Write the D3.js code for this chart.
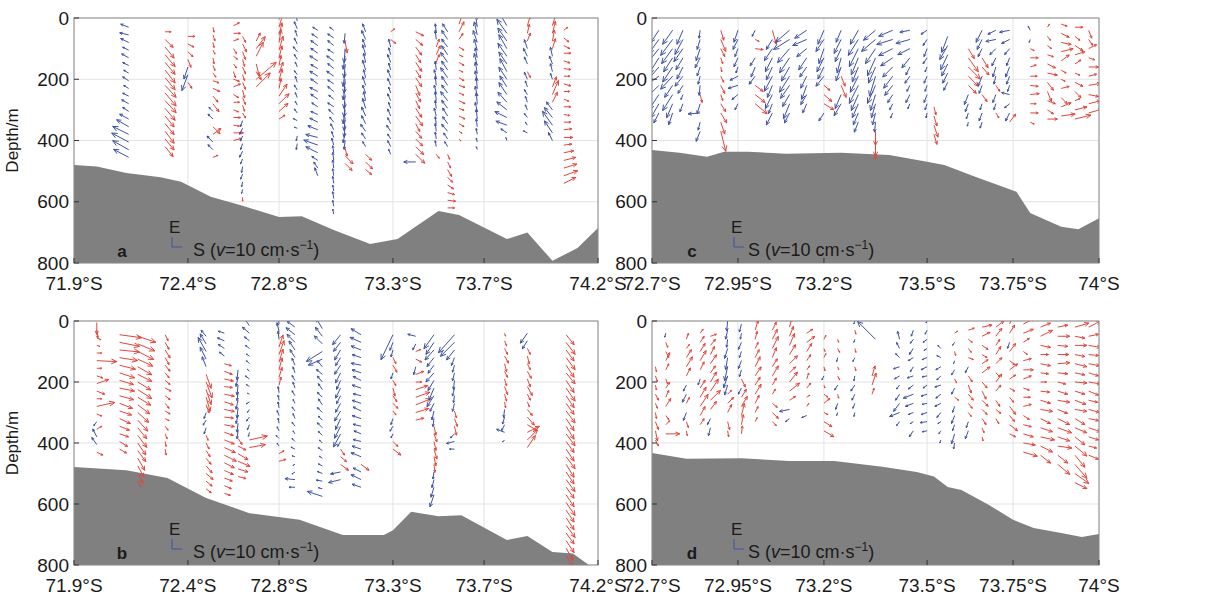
<!DOCTYPE html>
<html lang="en">
<head>
<meta charset="UTF-8">
<title>Current vectors along the sections</title>
<script src="https://d3js.org/d3.v7.min.js"></script>
<style>
  body { margin: 0; background: #fff; }
  text { font-family: "Liberation Sans", Arial, sans-serif; fill: #1a1a1a; }
</style>
</head>
<body>
<div id="chart"></div>
<script>
// axis ticks
const latTicksAB = [71.9, 72.4, 72.8, 73.3, 73.7, 74.2];
const latTicksCD = [72.7, 72.95, 73.2, 73.5, 73.75, 74];
const depthTicks = [0, 200, 400, 600, 800];

// bottom topography, [latitude °S, depth m]
const bottomA = [[71.9,480],[72.0,485],[72.13,506],[72.28,520],[72.37,535],[72.5,584],[72.64,613],[72.8,650],[72.9,647],[73.04,692],[73.2,738],[73.32,722],[73.5,630],[73.59,643],[73.8,722],[73.89,700],[74.0,793],[74.11,751],[74.2,686]];
const bottomB = [[71.9,479],[72.13,489],[72.31,515],[72.48,580],[72.67,630],[72.89,652],[73.08,702],[73.26,702],[73.3,686],[73.38,625],[73.5,640],[73.6,637],[73.8,718],[73.89,705],[74.0,757],[74.09,762],[74.16,800],[74.2,800]];
const bottomC = [[72.7,431],[72.78,440],[72.86,453],[72.91,437],[72.98,437],[73.09,443],[73.25,440],[73.39,447],[73.5,469],[73.55,480],[73.64,518],[73.76,567],[73.8,637],[73.89,682],[73.94,690],[74.0,654]];
const bottomD = [[72.7,433],[72.8,452],[72.96,450],[73.1,459],[73.23,459],[73.37,478],[73.47,495],[73.52,510],[73.56,544],[73.6,554],[73.68,603],[73.75,652],[73.81,679],[73.89,695],[73.95,708],[74.0,698]];

// stations: latitude, first depth z0, then one vector every dz metres
// vector = [southward, eastward] in cm/s (null = no data)
const stationsA = [
  {lat:72.14, z0:30, vec:[[-8,3],[-9,2],[-8,4],[-6,3],[-7,4],[-6,3],[-5,3],[-6,4],[-5,3],[-6,3],[-7,4],[-6,4],[-9,5],[-12,7],[-16,8],[-17,9],[-16,9],[-15,8]]},
  {lat:72.30, z0:45, vec:[[6,0],[8,-8],[9,-11],[10,-12],[10,-12],[10,-13],[10,-12],[11,-12],[11,-13],[11,-12],[10,-12],[9,-11],[9,-11],[9,-12],[9,-11],[8,-10]]},
  {lat:72.40, z0:60, vec:[[7,0],[6,-3],[5,-5],[3,-8],[-4,-12],[-6,-16],[4,-6]]},
  {lat:72.51, z0:30, vec:[[1,-5],[2,-6],[1,-5],[2,-4],[1,-6],[2,-5],[3,-4],[6,-2],[7,-3],[5,-6],[6,-8],[-4,4],[-5,5],[7,-7],[8,6],[-6,6],[-5,5],[5,2]]},
  {lat:72.60, z0:25, vec:[[6,3],[7,0],[5,2],[3,-5],[4,-3],[3,-4],[2,-6],[6,-2],[7,3],[5,-3],[6,0],[5,-2],[7,0],[6,-1],[10,0],[8,2]]},
  {lat:72.64, z0:60, vec:[[3,-6],[4,-8],[3,-8],[2,-7],[3,-7],[2,-6],[3,-7],[2,-8],[3,-7],[2,-6],[3,-5],[-2,-6],[-3,-6],[-2,-5],[-2,-6],[-3,-6],[-2,-5],[-1,-6],[-2,-5],[-1,-5],[-1,-4],[0,-4]]},
  {lat:72.70, z0:75, vec:[[4,8],[9,12],[7,14],[3,-12],[5,-8],[20,17],[14,14]]},
  {lat:72.80, z0:5, vec:[[3,12],[4,14],[3,12],[2,13],[4,14],[3,12],[2,10],[4,11],[3,12],[2,10],[8,12],[10,10],[9,8],[6,4]]},
  {lat:72.88, z0:10, vec:[[-2,8],[-3,7],[-2,6],[-3,6],[-4,5],[-3,5],[-2,5],[-3,4],[-2,6],[-3,5],[-2,5],[-2,4],[-3,4],[-4,2],[-3,1],[-1,-5],[-1,-6]]},
  {lat:72.97, z0:40, vec:[[-5,3],[-6,4],[-7,5],[-7,5],[-8,5],[-7,4],[-8,5],[-7,5],[-8,4],[-7,5],[-6,4],[-7,3],[-8,4],[-10,4],[-12,3],[-14,5],[-12,6],[-6,4],[-4,6],[-3,8]]},
  {lat:73.04, z0:40, vec:[[-4,3],[-6,4],[-6,5],[-6,4],[-7,5],[-6,5],[-7,5],[-6,4],[-6,5],[-5,4],[-6,4],[-5,5],[-4,5],[-3,6],[-2,6],[-2,7],[-1,7],[-1,8],[-1,8],[-1,7],[-1,7],[-1,6],[-1,7],[-1,6],[-1,5]]},
  {lat:73.09, z0:50, vec:[[-1,-10],[2,-12],[-1,-14],[-2,-13],[-1,-14],[-2,-15],[-1,-14],[-2,-13],[-1,-14],[-1,-15],[-2,-14],[-1,-13],[-1,-12],[-2,-10],[-1,-9],[2,-8],[8,-8],[7,-7]]},
  {lat:73.18, z0:45, vec:[[-3,8],[-4,9],[-3,8],[-3,10],[-2,9],[-3,10],[-2,8],[-3,9],[-3,8],[-2,9],[-3,10],[-4,9],[-4,8],[-5,7],[-4,6],[-3,5],[6,-6],[7,-7],[6,-5]]},
  {lat:73.29, z0:45, vec:[[4,3],[5,-4],[-2,8],[-2,7],[-3,8],[-2,7],[-3,8],[-3,7],[-2,6],[-3,7],[-2,6],[-3,7],[-3,6],[-4,6],[-3,5],[-3,6],[-2,5]]},
  {lat:73.40, z0:45, vec:[[8,-4],[7,-6],[6,-8],[5,-8],[6,-9],[5,-8],[6,-9],[4,-10],[5,-9],[4,-8],[6,-9],[7,-10],[4,-8],[6,-7],[7,-7],[8,-8],[9,-9],[-12,0]]},
  {lat:73.49, z0:45, vec:[[-1,8],[-1,9],[3,8],[4,9],[3,8],[-1,9],[-2,8],[-1,9],[-2,8],[-1,9],[-1,8],[-2,8],[-1,7],[-1,8],[-1,7],[-1,6],[3,-4]]},
  {lat:73.54, z0:45, vec:[[-5,8],[-6,9],[-6,8],[-6,9],[-7,10],[-6,9],[-7,10],[-6,9],[-6,8],[-7,9],[-6,8],[-5,8],[-5,7],[-6,7],[-4,6],[-3,5],[2,-5],[3,-6],[4,-7],[5,-5],[6,-4],[7,-2],[8,-1],[7,0]]},
  {lat:73.59, z0:20, vec:[[4,12],[5,10],[4,6],[5,-3],[4,-2],[5,-3],[4,-2],[5,-3],[6,-2],[5,-2],[6,-3],[5,-2],[6,-3],[5,-3],[3,-2],[2,-2]]},
  {lat:73.67, z0:5, vec:[[-1,15],[-2,14],[-3,13],[-4,12],[-3,11],[-2,10],[-3,12],[-2,11],[-2,10],[-1,11],[-2,10],[-1,11],[-2,9],[-1,10],[-1,8],[-1,6],[-1,4],[-1,3]]},
  {lat:73.80, z0:0, vec:[[-8,14],[-9,15],[-10,14],[-9,13],[-8,14],[-9,13],[-8,12],[-7,13],[-8,12],[-7,11],[-8,12],[-9,10],[-10,8],[-12,6],[-11,4],[-6,4],[-1,3]]},
  {lat:73.89, z0:0, vec:[[2,12],[3,10],[2,9],[3,8],[-3,9],[-4,8],[-3,7],[3,-6],[-3,7],[-2,6],[-3,5],[-2,6],[-2,5],[-3,4],[-2,3],[-4,2]]},
  {lat:74.00, z0:0, vec:[[3,12],[4,13],[3,12],[2,11],[3,10],[-2,9],[-3,8],[-2,8],[-2,6],[4,10],[6,14],[5,10],[-6,8],[-8,10],[-10,14],[-8,12],[-4,8]]},
  {lat:74.05, z0:40, vec:[[4,3],[5,-4],[6,-3],[7,0],[6,-2],[7,-1],[6,0],[7,-2],[6,0],[5,-2],[7,0],[6,-1],[7,0],[8,1],[9,0],[8,1],[10,2],[12,3],[13,4],[14,5],[12,6]]}
];

const stationsB = [
  {lat:72.00, z0:5, vec:[[0,-12],[1,-8],[4,-2],[3,-1],[5,0],[20,-1],[5,0],[6,-2],[12,4],[8,-3],[5,0],[18,4],[5,-2],[-3,-4],[5,3],[-4,8],[-5,7],[6,-3]]},
  {lat:72.10, z0:45, vec:[[22,-3],[20,-4],[20,-2],[18,-3],[16,-4],[15,-5],[14,-4],[15,-3],[14,-4],[13,-5],[12,-4],[11,-5],[10,-4],[9,-3],[8,-5],[7,-4]]},
  {lat:72.18, z0:50, vec:[[18,-6],[17,-7],[16,-8],[15,-7],[14,-8],[14,-7],[13,-8],[14,-9],[13,-8],[12,-9],[11,-10],[10,-11],[9,-11],[9,-12],[8,-12],[8,-11],[7,-12],[6,-11],[5,-10],[3,-6]]},
  {lat:72.30, z0:45, vec:[[3,-6],[4,-7],[5,-8],[4,-7],[5,-6],[4,-5],[5,-4],[6,-3],[5,-4],[4,-5],[5,-3],[4,-2],[3,-4],[2,-5],[1,-5],[1,-6]]},
  {lat:72.48, z0:50, vec:[[-5,6],[-6,10],[-8,14],[-6,12],[-4,10],[5,-14],[6,-16],[5,-15],[4,-14],[3,-8],[-2,-6],[-3,-5],[-2,-6],[2,-5],[3,-6],[4,-6],[5,-6],[6,-7],[7,-6],[6,-5],[5,-4]]},
  {lat:72.56, z0:40, vec:[[-6,2],[-7,3],[-6,4],[-5,4],[7,-2],[8,-3],[9,-2],[8,-1],[10,-2],[9,-3],[10,-2],[9,-1],[10,-2],[9,-3],[10,-4],[11,-5],[12,-6],[10,-5],[9,-4],[8,-3],[7,-3],[6,-2]]},
  {lat:72.62, z0:160, vec:[[-1,-10],[-2,-9],[-1,-10],[-1,-8],[-2,-9],[-1,-10],[-2,-8],[-1,-9],[-1,-8],[4,-6],[8,-4],[10,-6],[12,-5],[10,-3],[8,-2]]},
  {lat:72.67, z0:15, vec:[[-6,8],[-7,6],[-5,4],[-4,3],[-3,2],[-3,3],[-2,2],[-4,3],[-3,2],[-2,1],[-3,-2],[-2,-3],[-3,-4],[-2,-5],[-1,-4],[18,4],[16,3]]},
  {lat:72.80, z0:10, vec:[[-1,10],[-2,9],[-1,8],[4,12],[5,14],[4,13],[3,12],[3,10],[2,8],[-1,6],[-1,5],[-1,6],[-2,5],[-1,5],[-2,4],[-3,3],[-2,3],[5,3],[7,2]]},
  {lat:72.87, z0:20, vec:[[-8,6],[-9,7],[-8,8],[-6,9],[-5,8],[-3,7],[-2,6],[-3,5],[-2,6],[-3,5],[-2,4],[-3,4],[-2,5],[-3,4],[-2,3],[-3,3],[-4,2],[-3,1],[-2,-1],[-3,-2],[-10,1],[-6,0]]},
  {lat:72.99, z0:25, vec:[[-6,10],[-7,9],[-8,8],[-16,-10],[-14,-6],[-5,6],[-6,5],[-5,6],[-4,6],[-5,5],[-4,6],[-5,5],[-4,4],[-5,5],[-4,4],[-3,3],[-4,3],[-3,2],[-4,2],[-5,2],[-6,1],[-4,1],[-15,5]]},
  {lat:73.07, z0:45, vec:[[-8,-10],[-7,-9],[-6,-10],[-5,-8],[-6,-9],[-5,-10],[-4,-9],[-5,-10],[-4,-8],[-5,-9],[-6,-10],[-5,-11],[-6,-12],[-7,-13],[-3,-5],[4,-6],[6,-5],[8,-6],[-10,-2],[-12,-3]]},
  {lat:73.16, z0:45, vec:[[-10,6],[-11,5],[-10,4],[-9,3],[-10,2],[-9,3],[-8,4],[-9,3],[-8,2],[-9,3],[-8,4],[-9,3],[-8,2],[-7,3],[-8,2],[-9,3],[-10,4],[8,-6],[-8,4],[-10,5],[-9,3]]},
  {lat:73.30, z0:45, vec:[[-12,-25],[-3,-8],[-2,-7],[3,-6],[4,-7],[-2,-6],[3,-5],[2,-8],[4,-6],[5,-5],[3,-4],[-2,-6],[-3,-5],[-2,-4],[5,-5],[8,-6]]},
  {lat:73.40, z0:50, vec:[[-8,2],[-3,-6],[5,2],[6,-3],[-2,-8],[8,3],[6,0],[12,4],[14,5],[15,6],[13,4],[8,2]]},
  {lat:73.48, z0:45, vec:[[-10,-14],[-8,-12],[-9,-10],[-7,-9],[-6,-8],[-8,-9],[-6,-10],[-5,-12],[-7,-11],[-4,-8],[-2,-9],[-1,-8],[2,-9],[3,-8],[2,-9],[3,-10],[2,-9],[1,-8],[-1,-7],[-2,-8],[-3,-10],[-4,-12]]},
  {lat:73.57, z0:45, vec:[[-16,-18],[-14,-14],[-8,-10],[-3,-8],[-2,-7],[-2,-8],[-1,-9],[-2,-8],[-1,-7],[-2,-8],[2,-7],[3,-8],[2,-9],[-4,-4],[-8,-2],[-5,0]]},
  {lat:73.79, z0:40, vec:[[1,-3],[2,-5],[3,-6],[4,-7],[2,-8],[3,-6],[2,-7],[3,-8],[2,-7],[1,-6],[-1,-8],[-2,-7],[-3,-6],[-8,3],[-2,-2]]},
  {lat:73.89, z0:40, vec:[[-7,-10],[-5,-8],[3,-6],[2,-8],[3,-6],[4,-7],[3,-8],[5,-9],[3,-6],[2,-5],[5,-6],[7,-8],[10,-6],[12,6],[10,10],[8,12]]},
  {lat:74.06, z0:45, vec:[[8,-10],[9,-12],[8,-11],[9,-12],[8,-12],[9,-11],[8,-12],[9,-13],[8,-12],[8,-11],[9,-12],[8,-12],[8,-13],[9,-12],[8,-11],[8,-12],[9,-12],[8,-13],[8,-12],[9,-12],[8,-11],[8,-12],[9,-13],[8,-12],[8,-12],[9,-12],[8,-11],[8,-12],[7,-12],[7,-11]]}
];

const stationsC = [
  {lat:72.72, z0:40, vec:[[-8,-12],[-10,-14],[-12,-15],[-10,-16],[-12,-14],[-14,-10],[-12,-12],[-10,-15],[-8,-14],[-5,-10]]},
  {lat:72.76, z0:40, vec:[[-10,-14],[-12,-16],[-11,-15],[-9,-14],[-10,-15],[-12,-13],[-8,-12],[-10,-16],[-6,-14],[-4,-12]]},
  {lat:72.79, z0:40, vec:[[-6,-14],[-8,-15],[-9,-13],[-7,-12],[-6,-12],[-8,-10],[-5,-8],[-2,-5],[-3,-8]]},
  {lat:72.84, z0:40, vec:[[-1,-8],[-3,-10],[-4,-12],[-5,-10],[-3,-9],[-2,-8],[-1,-10],[2,-8],[-3,-10],[-12,-1],[-2,-8],[-4,-10]]},
  {lat:72.90, z0:40, vec:[[3,-10],[5,-12],[4,-8],[2,-6],[1,-5],[3,-6],[4,-8],[2,-6],[5,-8],[6,-10],[4,-12],[5,-20]]},
  {lat:72.95, z0:40, vec:[[-4,-12],[-5,-10],[-3,-8],[-4,-9],[-2,-6],[-8,-4],[-10,-3],[-6,-5],[-3,-6]]},
  {lat:73.00, z0:40, vec:[[-3,-6],[4,-2],[8,-1],[-5,-8],[-4,-10],[-6,-8],[8,-6],[10,-8],[12,-10]]},
  {lat:73.05, z0:40, vec:[[4,-14],[-6,-10],[-8,-12],[-7,-14],[-6,-13],[-8,-15],[-5,-12],[-7,-14],[-4,-10],[-6,-12]]},
  {lat:73.10, z0:40, vec:[[-14,-12],[-16,-10],[-12,-14],[-10,-15],[-8,-14],[-10,-16],[-9,-13],[-7,-12],[-6,-15],[-5,-10]]},
  {lat:73.15, z0:40, vec:[[-12,-8],[-14,-6],[-10,-8],[-8,-12],[-7,-10],[-6,-12],[-5,-14],[-6,-10],[-4,-9]]},
  {lat:73.20, z0:40, vec:[[-6,-14],[-8,-12],[-5,-15],[-7,-14],[-6,-12],[-8,-10],[6,-5],[8,-7],[10,-6],[-5,-8]]},
  {lat:73.25, z0:40, vec:[[-5,-12],[-7,-14],[-6,-13],[-4,-15],[-5,-14],[4,-10],[5,-12],[-6,-14],[-7,-12]]},
  {lat:73.30, z0:40, vec:[[-8,-14],[-10,-16],[-9,-18],[-7,-17],[-6,-15],[-8,-16],[-9,-18],[-7,-16],[-6,-14],[-5,-12],[-4,-10]]},
  {lat:73.35, z0:40, vec:[[-12,-10],[-14,-12],[-10,-15],[-8,-18],[-7,-16],[-6,-20],[-8,-18],[-5,-16],[-4,-14],[-3,-12],[-1,-10],[0,-14],[0,-16],[0,-10]]},
  {lat:73.40, z0:40, vec:[[-14,-6],[-16,-5],[-14,-7],[-12,-8],[-10,-10],[-9,-12],[-8,-10],[-5,-8],[-3,-6],[-2,-5]]},
  {lat:73.45, z0:40, vec:[[-10,-2],[-14,-4],[-12,-6],[-8,-10],[-4,-8],[-5,-7],[-3,-6],[-4,-8],[-2,-5]]},
  {lat:73.50, z0:40, vec:[[-6,-4],[-4,-6],[-3,-8],[-4,-6],[-2,-5],[-3,-7],[-2,-6],[-3,-8],[-2,-6],[-1,-5]]},
  {lat:73.52, z0:290, vec:[[2,-8],[3,-10],[4,-12],[3,-10]]},
  {lat:73.56, z0:60, vec:[[-6,-16],[-8,-14],[-7,-15],[-6,-12],[-5,-10],[-4,-8]]},
  {lat:73.62, z0:100, vec:[[6,-10],[10,-14],[12,-12],[10,-10],[8,-8],[-4,-10],[-3,-8],[-2,-6],[-1,-4]]},
  {lat:73.66, z0:40, vec:[[-6,-12],[-5,-10],[-4,-8],[6,-10],[7,-8],[-4,-10],[-3,-8],[5,-7],[-2,-6],[-3,-8],[-2,-6]]},
  {lat:73.70, z0:40, vec:[[-8,-4],[-10,-2],[-6,-6],[-4,-8],[-3,-10],[-2,-8],[4,-6],[-3,-8],[-2,-6],[3,-5]]},
  {lat:73.74, z0:40, vec:[[-10,-2],[-8,-4],[-5,-6],[-3,-8],[-4,-10],[-3,-8],[-2,-6],[-8,2],[-5,-4],[-4,-8],[6,8]]},
  {lat:73.80, z0:40, vec:[[-2,4],[-1,-3],[4,-2],[8,0],[6,2],[7,0],[8,-1],[9,1],[6,0],[8,0],[4,-2]]},
  {lat:73.85, z0:30, vec:[[2,3],[3,-4],[4,-3],[6,-2],[8,-4],[10,-2],[6,-8],[4,-10],[8,-3],[6,-4],[10,0]]},
  {lat:73.89, z0:20, vec:[[6,-2],[8,-4],[10,-2],[12,3],[8,6],[5,-3],[4,-2],[8,2],[6,-6],[10,4],[14,2]]},
  {lat:73.93, z0:30, vec:[[8,0],[5,-4],[8,-5],[10,3],[6,4],[5,-2],[8,-4],[6,-6],[5,2],[12,3],[16,4]]},
  {lat:73.97, z0:40, vec:[[3,-8],[4,-6],[8,4],[6,-2],[10,0],[8,2],[12,2],[10,-2],[12,3],[14,4]]}
];

const stationsD = [
  {lat:72.71, z0:150, vec:[[1,-5],[2,-6],[1,-5],[3,-6],[2,-5],[1,-6],[3,-8],[2,-10],[3,-6]]},
  {lat:72.74, z0:40, vec:[[-1,-4],[2,-5],[3,-6],[4,8],[3,6],[2,-5],[4,6],[3,7],[5,8],[3,-4],[4,4],[14,0]]},
  {lat:72.80, z0:60, vec:[[2,6],[3,4],[5,8],[6,10],[4,8],[-3,-6],[-4,-8],[3,6],[-3,-8],[2,-6],[1,-5]]},
  {lat:72.84, z0:40, vec:[[3,4],[4,6],[5,8],[6,10],[4,8],[-2,-6],[5,8],[6,10],[8,12],[5,9],[4,6]]},
  {lat:72.87, z0:50, vec:[[6,2],[5,6],[4,8],[6,9],[5,7],[6,10],[8,12],[10,10],[6,8],[-3,-6],[-2,-8]]},
  {lat:72.92, z0:0, vec:[[-1,-10],[-2,-9],[-1,-8],[-3,-10],[-2,-12],[-3,-14],[-4,-12],[-3,-10],[4,4],[6,6],[4,8],[2,-8],[1,-6]]},
  {lat:72.96, z0:10, vec:[[-2,-8],[-1,-6],[-3,-7],[-2,-6],[-3,-8],[-2,-7],[4,-8],[-3,-6],[5,8],[6,10],[3,12],[2,10],[1,8]]},
  {lat:73.00, z0:0, vec:[[2,12],[3,10],[2,8],[3,6],[4,8],[5,10],[6,9],[5,8],[6,10],[4,8],[3,6],[2,4]]},
  {lat:73.05, z0:0, vec:[[3,10],[4,8],[5,10],[6,12],[4,10],[5,8],[6,10],[4,7],[3,5],[5,-4],[6,-6],[4,-4]]},
  {lat:73.10, z0:20, vec:[[2,8],[4,10],[5,12],[6,10],[8,8],[6,6],[8,10],[10,8],[6,4],[-10,-2],[-4,-3]]},
  {lat:73.15, z0:40, vec:[[6,4],[8,6],[5,8],[4,6],[3,4],[2,6],[4,5],[3,2],[2,3],[-5,-2]]},
  {lat:73.20, z0:60, vec:[[2,4],[1,-3],[2,4],[1,-4],[-2,-4],[1,-3],[4,-3],[6,5],[4,-2],[8,-5],[10,-6]]},
  {lat:73.24, z0:60, vec:[[1,-3],[2,-4],[-1,-4],[1,-3],[2,-4],[-3,-5],[1,-4],[-2,-6],[-1,-3]]},
  {lat:73.29, z0:0, vec:[[-1,-3],[1,-4],[-1,-3],[1,-4],[-2,-4],[1,-4],[-1,-5],[-4,-6],[-3,-6],[-2,-5],[-1,-4]]},
  {lat:73.34, z0:180, vec:[[3,10],[4,12],[2,6]]},
  {lat:73.35, z0:60, vec:[[-18,18]]},
  {lat:73.42, z0:60, vec:[[-2,8],[-3,6],[-4,4],[-6,-2],[-5,-3],[-3,-4],[-4,-6],[-6,-8],[-10,-4],[-3,-4]]},
  {lat:73.46, z0:30, vec:[[-2,-6],[-3,-4],[-4,-6],[-5,-3],[-3,-5],[-6,-2],[-5,-4],[-10,-4],[-8,-3],[-5,-2],[-3,-2],[-4,-6]]},
  {lat:73.50, z0:0, vec:[[-1,-2],[-2,-4],[-4,-3],[-3,-2],[-5,-2],[-6,-3],[-5,-1],[-4,-3],[-6,-2],[-5,-1],[-6,-2],[-7,-1],[-5,-1]]},
  {lat:73.54, z0:90, vec:[[-3,3],[-4,2],[-5,-3],[-4,-4],[-6,-2],[-5,-4],[-6,-3],[-4,-5],[-3,-2],[-2,-3],[-1,-3]]},
  {lat:73.58, z0:40, vec:[[3,2],[-2,-3],[1,-4],[-1,-3],[-3,-5],[2,-4],[-3,-6],[4,-3],[-2,-6],[-3,-8],[-2,-6],[-3,-10],[-1,-6]]},
  {lat:73.62, z0:30, vec:[[6,2],[4,-3],[3,-4],[5,-2],[-3,-6],[4,-6],[3,-8],[5,-6],[4,-5],[3,-4],[-2,-6],[-3,-8]]},
  {lat:73.66, z0:20, vec:[[10,2],[8,4],[6,-4],[5,-3],[6,4],[8,6],[5,-6],[4,-8],[6,-6],[5,-5],[4,-6],[2,-5],[1,-4]]},
  {lat:73.70, z0:20, vec:[[8,6],[6,8],[4,6],[5,8],[6,6],[4,-4],[6,8],[5,6],[4,-6],[5,-4],[3,-5]]},
  {lat:73.74, z0:10, vec:[[4,10],[5,8],[-2,-6],[6,8],[5,-4],[8,6],[6,4],[5,-3],[4,-5],[6,-8],[5,-6],[8,-6],[6,-3]]},
  {lat:73.78, z0:10, vec:[[12,6],[10,4],[6,4],[4,-3],[8,2],[10,0],[8,3],[6,-2],[7,0],[8,2],[6,-4],[8,-2],[10,-3],[12,-2],[14,-4]]},
  {lat:73.83, z0:20, vec:[[10,4],[12,6],[10,-2],[8,0],[10,-2],[8,-1],[6,0],[9,-1],[10,-3],[12,-2],[10,-5],[12,-4],[14,-3],[12,-6],[10,-8]]},
  {lat:73.88, z0:20, vec:[[10,2],[12,0],[10,-1],[11,0],[12,1],[10,-1],[8,-2],[10,-3],[12,-2],[10,-4],[12,-6],[14,-5],[12,-4],[14,-2],[10,-8],[12,-10]]},
  {lat:73.93, z0:20, vec:[[14,4],[10,-2],[12,0],[10,-2],[12,-3],[10,-2],[12,-1],[10,-3],[11,-4],[12,-2],[10,-6],[12,-5],[10,-8],[12,-10],[10,-12],[12,-14],[14,-10],[12,-6]]},
  {lat:73.97, z0:20, vec:[[12,6],[10,2],[12,-2],[10,-1],[11,-2],[10,-3],[12,-2],[10,-4],[9,-2],[11,-3],[10,-2],[12,-4],[10,-3],[8,-2],[10,-4]]}
];

const panels = [
  {id:"a", left:74,  top:18,  xDomain:[71.9,74.2], ticks:latTicksAB, bottom:bottomA, stations:stationsA, dz:25, ylabel:true,  leg:[48, 98, 119]},
  {id:"b", left:74,  top:321, xDomain:[71.9,74.2], ticks:latTicksAB, bottom:bottomB, stations:stationsB, dz:25, ylabel:true,  leg:[48, 98, 119]},
  {id:"c", left:652, top:18,  xDomain:[72.7,74.0], ticks:latTicksCD, bottom:bottomC, stations:stationsC, dz:30, ylabel:false, leg:[40, 82, 96]},
  {id:"d", left:652, top:321, xDomain:[72.7,74.0], ticks:latTicksCD, bottom:bottomD, stations:stationsD, dz:30, ylabel:false, leg:[40, 82, 96]}
];

const W = 1211, H = 600;
const red = "#e0473d", blue = "#3f52a4";

// 10 cm/s drawn as 10 px
const speed = d3.scaleLinear().domain([0, 10]).range([0, 10]);

const svg = d3.select("#chart").append("svg")
  .attr("width", W).attr("height", H);

function arrow(x0, y0, dx, dy) {
  const len = Math.hypot(dx, dy);
  if (len < 0.5) return "";
  const ang = Math.atan2(dy, dx);
  const h = Math.min(len * 0.33, 6);
  const x1 = x0 + dx, y1 = y0 + dy;
  const a1 = ang + Math.PI - 0.42, a2 = ang + Math.PI + 0.42;
  return `M${x0},${y0}L${x1},${y1}` +
    `M${x1 + h * Math.cos(a1)},${y1 + h * Math.sin(a1)}L${x1},${y1}L${x1 + h * Math.cos(a2)},${y1 + h * Math.sin(a2)}`;
}

panels.forEach(p => {
  const w = p.id === "a" || p.id === "b" ? 524 : 447;
  const h = p.top < 100 ? 245 : 244;
  const x = d3.scaleLinear().domain(p.xDomain).range([0, w]);
  const y = d3.scaleLinear().domain([0, 800]).range([0, h]);

  const g = svg.append("g").attr("transform", `translate(${p.left},${p.top})`);

  g.append("clipPath").attr("id", "clip-" + p.id)
    .append("rect").attr("width", w).attr("height", h);

  // grid
  g.selectAll(".gx").data(p.ticks).enter().append("line")
    .attr("x1", d => x(d)).attr("x2", d => x(d))
    .attr("y1", 0).attr("y2", h)
    .attr("stroke", "#e3e3e3").attr("stroke-width", 1);
  g.selectAll(".gy").data(depthTicks).enter().append("line")
    .attr("x1", 0).attr("x2", w)
    .attr("y1", d => y(d)).attr("y2", d => y(d))
    .attr("stroke", "#e3e3e3").attr("stroke-width", 1);

  // bottom topography
  const area = d3.area()
    .x(d => x(d[0]))
    .y0(y(800))
    .y1(d => y(d[1]));
  g.append("path").datum(p.bottom)
    .attr("d", area)
    .attr("fill", "#808080")
    .attr("clip-path", `url(#clip-${p.id})`);

  // current vectors
  const vecs = [];
  p.stations.forEach(st => {
    st.vec.forEach((v, i) => {
      if (v) vecs.push({lat: st.lat, z: st.z0 + i * p.dz, s: v[0], e: v[1]});
    });
  });
  g.append("g").attr("clip-path", `url(#clip-${p.id})`)
    .selectAll("path").data(vecs).enter().append("path")
    .attr("d", d => arrow(x(d.lat), y(d.z), speed(d.s), -speed(d.e)))
    .attr("fill", "none")
    .attr("stroke", d => d.s >= 0 ? red : blue)
    .attr("stroke-width", 1);

  // box and ticks
  g.append("rect").attr("width", w).attr("height", h)
    .attr("fill", "none").attr("stroke", "#8c8c8c").attr("stroke-width", 1);
  g.selectAll(".tx").data(p.ticks).enter().append("line")
    .attr("x1", d => x(d)).attr("x2", d => x(d))
    .attr("y1", h).attr("y2", h - 5)
    .attr("stroke", "#333");
  g.selectAll(".ty").data(depthTicks).enter().append("line")
    .attr("x1", 0).attr("x2", 5)
    .attr("y1", d => y(d)).attr("y2", d => y(d))
    .attr("stroke", "#333");

  // tick labels
  g.selectAll(".lx").data(p.ticks).enter().append("text")
    .attr("x", d => x(d)).attr("y", h + 27)
    .attr("text-anchor", "middle")
    .style("font-size", "19px")
    .text(d => d + "°S");
  g.selectAll(".ly").data(depthTicks).enter().append("text")
    .attr("x", -5).attr("y", d => y(d))
    .attr("text-anchor", "end")
    .attr("dominant-baseline", "central")
    .style("font-size", "19px")
    .text(d => d);

  if (p.ylabel) {
    g.append("text")
      .attr("transform", `translate(${-56},${h / 2}) rotate(-90)`)
      .attr("text-anchor", "middle")
      .style("font-size", "17px")
      .text("Depth/m");
  }

  // panel letter and scale legend
  g.append("text")
    .attr("x", p.leg[0]).attr("y", h - 6)
    .attr("text-anchor", "middle")
    .style("font-size", "17px").style("font-weight", "bold")
    .text(p.id);
  const lx = p.leg[1], ly = h - 16;
  g.append("path")
    .attr("d", `M${lx},${ly - speed(10)}L${lx},${ly}L${lx + speed(10)},${ly}`)
    .attr("fill", "none").attr("stroke", blue).attr("stroke-width", 1);
  g.append("text")
    .attr("x", lx - 3).attr("y", ly - 14)
    .style("font-size", "17px")
    .text("E");
  const t = g.append("text")
    .attr("x", p.leg[2]).attr("y", h - 7)
    .style("font-size", "18px");
  t.append("tspan").text("S (");
  t.append("tspan").style("font-style", "italic").text("v");
  t.append("tspan").text("=10 cm·s");
  t.append("tspan").attr("dy", -7).style("font-size", "12px").text("−1");
  t.append("tspan").attr("dy", 7).text(")");
});
</script>
</body>
</html>
